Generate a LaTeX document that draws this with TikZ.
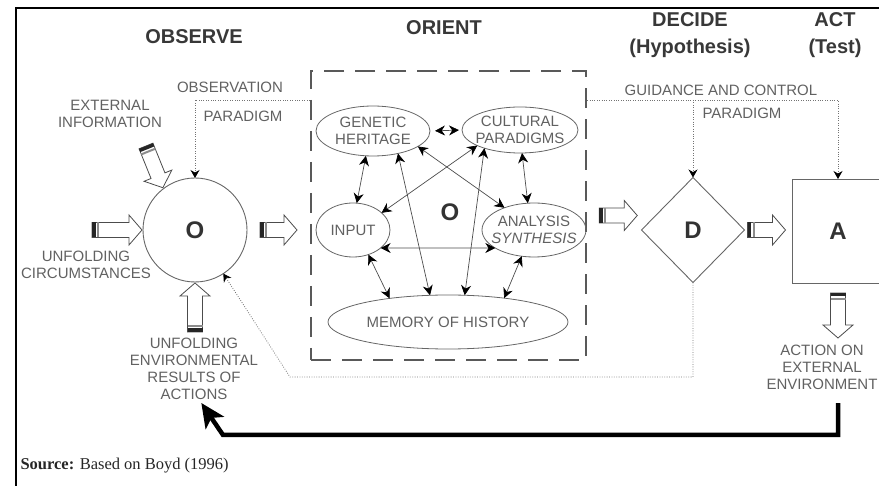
\documentclass[tikz,border=0pt]{standalone}
\usepackage{fontspec}
\setmainfont{Liberation Sans}
\newfontfamily\srcfont{Liberation Serif}
\usetikzlibrary{arrows.meta,shapes.geometric,positioning}

\begin{document}
\begin{tikzpicture}[
    x=1pt, y=-1pt,
    every node/.style={font=\fontsize{15}{17}\selectfont, text=black!62},
    title/.style={font=\fontsize{20}{27}\selectfont\bfseries, text=black!78, align=center},
    lbl/.style={align=center, inner sep=1pt},
    big/.style={font=\fontsize{24}{28}\selectfont\bfseries, text=black!80},
    stage/.style={draw=black!60, line width=0.9pt, inner sep=0pt, outer sep=0pt},
    ell/.style={ellipse, draw=black!60, line width=0.8pt, inner sep=-20pt, outer sep=0pt, align=center},
    dbl/.style={draw=black!70, line width=0.7pt,
      {Stealth[length=10pt,width=10pt,color=black]}-{Stealth[length=10pt,width=10pt,color=black]}},
    para/.style={draw=black!55, dash pattern=on 0.8pt off 1.6pt, line width=0.8pt,
      -{Stealth[length=8pt,width=9pt,color=black]}},
    ret/.style={draw=black, line width=4.5pt, -{Stealth[length=24pt,width=22pt,inset=6pt]}},
    pics/blockarr/.style={code={
        \filldraw[fill=white, draw=black!70, line width=0.8pt]
          (0,-7.5) -- (#1-13,-7.5) -- (#1-13,-15) -- (#1,0) -- (#1-13,15) -- (#1-13,7.5) -- (0,7.5) -- cycle;
        \fill[black!85] (0,-7.5) rectangle (3.5,7.5);
        \fill[black!45] (5,-7.5) rectangle (7,7.5);
    }},
]
\useasboundingbox (0,0) rectangle (879,486);
\clip (0,0) rectangle (879,486);
\draw[line width=2.2pt] (16,500) |- (900,8);

% phase titles
\node[title] (tobs) at (194,37) {OBSERVE};
\node[title] (tori) at (444,28) {ORIENT};
\node[title] (tdec) at (690,35.5) {DECIDE\\(Hypothesis)};
\node[title] (tact) at (835,35.5) {ACT\\(Test)};

% the four stages
\node[stage, circle, minimum size=104pt, big] (obs) at (195,230) {O};
\node[draw=black!65, line width=2.5pt, dash pattern=on 20pt off 11pt,
      minimum width=275pt, minimum height=289pt, inner sep=0pt] (ori) at (448.5,215.5) {};
\node[stage, diamond, minimum width=103pt, minimum height=105pt, big] (dec) at (693,230) {D};
\node[stage, rectangle, minimum width=92pt, minimum height=104pt, big] (act) at (838,231) {A};

% inside orient
\node[big] (oo) at (450,212) {O};
\node[ell, minimum width=114pt, minimum height=50pt] (gen) at (373,131) {GENETIC\\HERITAGE};
\node[ell, minimum width=116pt, minimum height=46pt] (cul) at (520,130) {CULTURAL\\PARADIGMS};
\node[ell, minimum width=74pt, minimum height=54pt] (inp) at (353,230) {INPUT};
\node[ell, minimum width=104pt, minimum height=54pt] (ana) at (534,230) {ANALYSIS\\\textit{SYNTHESIS}};
\node[ell, minimum width=240pt, minimum height=54pt] (mem) at (448,322) {MEMORY OF HISTORY};

\draw[dbl, shorten <=5pt, shorten >=3pt] (gen.east) -- (cul.west);
\draw[dbl] (gen.-106) -- (inp.82);
\draw[dbl] (gen.-42) -- (mem.124);
\draw[dbl] (gen.-19) -- (ana.143);
\draw[dbl] (cul.-160) -- (inp.31);
\draw[dbl] (cul.-153) -- (mem.58);
\draw[dbl] (cul.-85) -- (ana.103);
\draw[dbl] (inp.-33) -- (ana.-155);
\draw[dbl] (inp.-58) -- (mem.158);
\draw[dbl] (ana.-115) -- (mem.23);

% labels
\node[lbl] (extinfo) at (110,114) {EXTERNAL\\INFORMATION};
\node[lbl] (unfc) at (86,265) {UNFOLDING\\CIRCUMSTANCES};
\node[lbl] (res) at (194,368.5) {UNFOLDING\\ENVIRONMENTAL\\RESULTS OF\\ACTIONS};
\node[lbl] (actenv) at (822,367.5) {ACTION ON\\EXTERNAL\\ENVIRONMENT};
\node[lbl] (obsv) at (230,87) {OBSERVATION};
\node[lbl] (opar) at (243,116) {PARADIGM};
\node[lbl] (guid) at (721,90) {GUIDANCE AND CONTROL};
\node[lbl] (gpar) at (742,113) {PARADIGM};

% block arrows
\pic at ([xshift=-51pt]obs.west) {blockarr=50};
\pic[rotate=-68] at ([shift={(-49pt,84pt)}]obs.center) {blockarr=45};
\pic[rotate=90] at ([yshift=-50pt]obs.south) {blockarr=49};
\pic at ([xshift=13pt]obs.east) {blockarr=37};
\pic at ([xshift=12pt]ori.east) {blockarr=38};
\pic at ([xshift=3pt]dec.east) {blockarr=38};
\pic[rotate=-90] at ([yshift=-10pt]act.south) {blockarr=45};

% paradigm lines
\coordinate (oline) at (0,100);
\coordinate (fb) at (290,377);
\draw[para] (ori.west |- oline) -| (obs.north);
\draw[para] (ori.east |- oline) -| (act.north);
\draw[para] (dec.north |- oline) -- (dec.north);
\draw[para] (dec.south) |- (fb) -- (obs.-57);

% feedback from action
\coordinate (rc) at (223,435);
\draw[ret, shorten <=12pt, shorten >=3pt] (actenv.south -| act.center) |- (rc) -- (res.-80);

\node[anchor=west, font=\srcfont\fontsize{16.5}{20}\selectfont, text=black!85] (src) at (17,466)
  {\textbf{Source:} Based on Boyd (1996)};
\end{tikzpicture}
\end{document}
